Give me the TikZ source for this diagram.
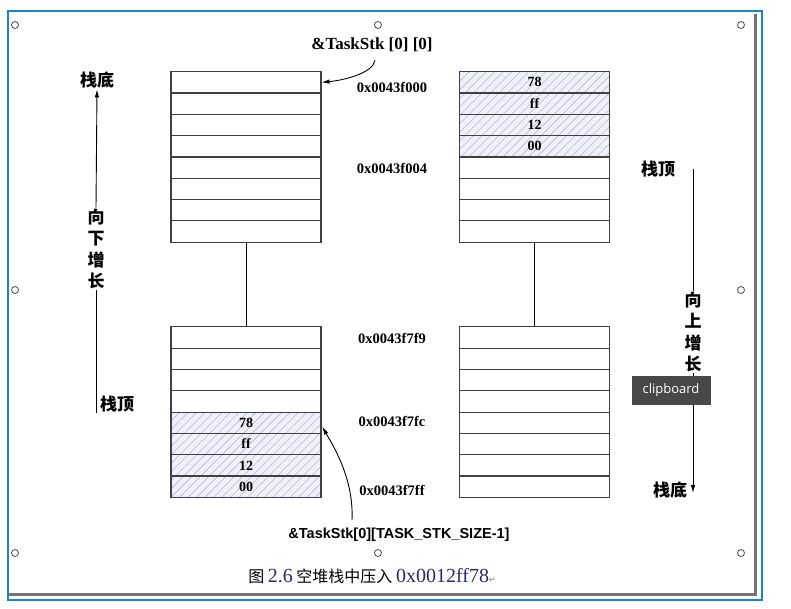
\documentclass[tikz,border=0pt]{standalone}
\usepackage{fontspec}
\setmainfont{Liberation Serif}
\newfontfamily\cjk{Noto Sans CJK SC}
\newfontfamily\lsans{Liberation Sans}
\newfontfamily\uisans{Open Sans}
\newfontfamily\symb{DejaVu Sans}
\usepackage{tikz}
\usetikzlibrary{calc, arrows.meta, patterns.meta}
\definecolor{framebl}{RGB}{24,132,208}
\definecolor{hatchbg}{RGB}{241,240,248}
\definecolor{hatchln}{RGB}{178,186,222}
\definecolor{tipgray}{RGB}{72,72,72}
\definecolor{capnavy}{RGB}{40,40,112}

\begin{document}
\begin{tikzpicture}[x=1pt,y=-1pt,inner sep=1pt,node distance=21.33pt,
    cell/.style={draw=black!75,line width=1.1pt,minimum width=150pt,
        minimum height=21.33pt,inner sep=0pt,
        font=\bfseries\fontsize{14}{14}\selectfont},
    pushed/.style={cell,preaction={fill=hatchbg},
        pattern={Lines[angle=45,distance=6pt,line width=0.6pt]},
        pattern color=hatchln},
    addr/.style={font=\bfseries\fontsize{14.5}{14.5}\selectfont},
    cn/.style={font=\cjk\bfseries\fontsize{17}{21.5}\selectfont,align=center},
    ptr/.style={line width=0.9pt,-{Latex[length=8pt,width=4.5pt]}},
    handle/.style={draw=black!70,fill=white,circle,line width=0.8pt,
        minimum size=7pt,inner sep=0pt}]
        \useasboundingbox (0,0) rectangle (791,609);
        % window frame
        \draw [framebl,line width=1.3pt] (8,11) rectangle (762,600);
        \draw [black!55,line width=3pt] (755,14) -- (755,594) -- (9,594);
        \node [handle] (h1) at (15,25) {};
        \node [handle] (h2) at (378,25) {};
        \node [handle] (h3) at (741,25) {};
        \node [handle] (h4) at (15,290) {};
        \node [handle] (h5) at (741,290) {};
        \node [handle] (h6) at (15,553) {};
        \node [handle] (h7) at (378,553) {};
        \node [handle] (h8) at (741,553) {};

        % left stack, top part
        \draw node [cell] (A01) at (246,82.3) {};
        \draw node [cell,below of=A01] (A02) {};
        \draw node [cell,below of=A02] (A03) {};
        \draw node [cell,below of=A03] (A04) {};
        \draw node [cell,below of=A04] (A05) {};
        \draw node [cell,below of=A05] (A06) {};
        \draw node [cell,below of=A06] (A07) {};
        \draw node [cell,below of=A07] (A08) {};
        % left stack, bottom part
        \draw node [cell] (B01) at (246,337.4) {};
        \draw node [cell,below of=B01] (B02) {};
        \draw node [cell,below of=B02] (B03) {};
        \draw node [cell,below of=B03] (B04) {};
        \draw node [pushed,below of=B04] (B05) {78};
        \draw node [pushed,below of=B05] (B06) {ff};
        \draw node [pushed,below of=B06] (B07) {12};
        \draw node [pushed,below of=B07] (B08) {00};
        % right stack, top part
        \draw node [pushed] (C01) at (534.5,82.3) {78};
        \draw node [pushed,below of=C01] (C02) {ff};
        \draw node [pushed,below of=C02] (C03) {12};
        \draw node [pushed,below of=C03] (C04) {00};
        \draw node [cell,below of=C04] (C05) {};
        \draw node [cell,below of=C05] (C06) {};
        \draw node [cell,below of=C06] (C07) {};
        \draw node [cell,below of=C07] (C08) {};
        % right stack, bottom part
        \draw node [cell] (D01) at (534.5,337.4) {};
        \draw node [cell,below of=D01] (D02) {};
        \draw node [cell,below of=D02] (D03) {};
        \draw node [cell,below of=D03] (D04) {};
        \draw node [cell,below of=D04] (D05) {};
        \draw node [cell,below of=D05] (D06) {};
        \draw node [cell,below of=D06] (D07) {};
        \draw node [cell,below of=D07] (D08) {};
        \draw [line width=0.8pt] (A08.south) -- (B01.north);
        \draw [line width=0.8pt] (C08.south) -- (D01.north);

        % addresses
        \node [addr] (f000) at (392,87) {0x0043f000};
        \node [addr] (f004) at (392,168) {0x0043f004};
        \node [addr] (f7f9) at (392,338) {0x0043f7f9};
        \node [addr] (f7fc) at (392,421) {0x0043f7fc};
        \node [addr] (f7ff) at (392,490) {0x0043f7ff};

        % pointers
        \node [font=\bfseries\fontsize{17}{17}\selectfont] (stk0) at (372,45)
            {\&TaskStk [0] [0]};
        \node [font=\lsans\bfseries\fontsize{14.5}{14.5}\selectfont] (stkN)
            at (399,535) {\&TaskStk[0][TASK\_STK\_SIZE-1]};
        \draw [ptr]
        ($ (stk0.south) + (3,7) $) .. controls ($ (stk0.south) + (1,20) $)
            and ($ (A01.east) + (22,-2) $) .. (A01.east);
        \draw [ptr]
        ($ (stkN.north) + (-47,-7) $) .. controls ($ (stkN.north) + (-45,-50) $)
            and ($ (B05.east) + (10,20) $) .. ($ (B05.east) + (1,4) $);

        % growth directions
        \node [cn] (bot1) at (97,80) {栈底};
        \node [cn] (grow1) at (96,249) {向\\下\\增\\长};
        \node [cn] (top1) at (117,404) {栈顶};
        \draw [ptr] (grow1.north) -- (bot1.south);
        \draw [line width=0.9pt] (grow1.south) -- (grow1.south |- top1.south);
        \node [cn] (top2) at (658,169) {栈顶};
        \node [cn] (grow2) at (693,332) {向\\上\\增\\长};
        \node [cn] (bot2) at (670,490) {栈底};
        \draw [line width=0.9pt] (grow2.north) -- (grow2.north |- top2.center);
        \draw [ptr] (grow2.south) -- ($ (grow2.south |- bot2.center) + (0,3) $);
        \node [fill=tipgray,text=white,minimum width=79pt,minimum height=29pt,
            font=\uisans\fontsize{13}{13}\selectfont] (clip) at (671,390)
            {clipboard};

        % caption
        \node [font=\cjk\fontsize{16}{16}\selectfont] (cap) at (372,576)
            {图 {\rmfamily\fontsize{20}{20}\selectfont\color{capnavy}2.6}
            空堆栈中压入 {\rmfamily\fontsize{20}{20}\selectfont\color{capnavy}0x0012ff78}%
            {\symb\fontsize{8}{8}\selectfont\color{black!50}↵}};
    \end{tikzpicture}
\end{document}
